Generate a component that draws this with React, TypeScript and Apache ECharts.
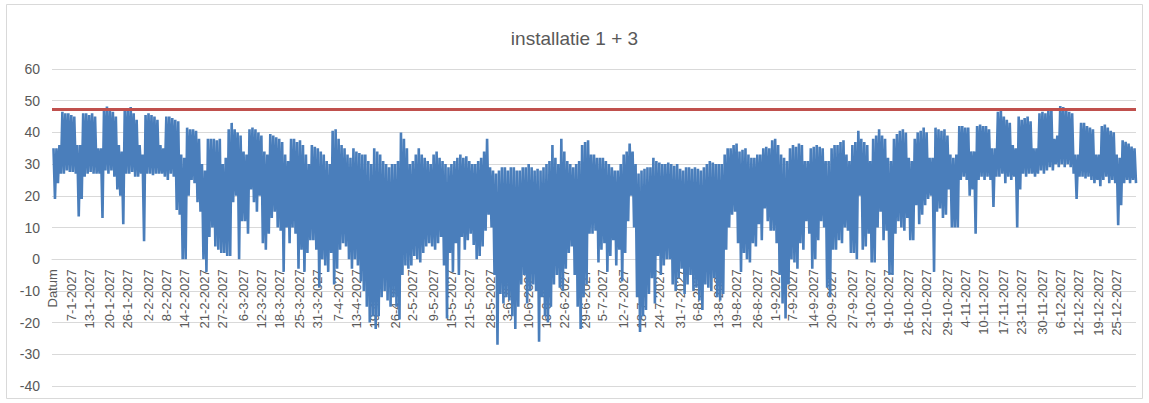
import React, { useEffect, useRef } from "react";
import * as echarts from "echarts";

const TITLE = "installatie 1 + 3";
const YEAR = 2027;
const FIRST_CATEGORY = "Datum";
const THRESHOLD = 47.2;
const Y_MIN = -40;
const Y_MAX = 60;
const Y_STEP = 10;

const TICK_LABELS = [
  "Datum", "7-1-2027", "13-1-2027", "20-1-2027", "26-1-2027", "2-2-2027", "8-2-2027",
  "14-2-2027", "21-2-2027", "27-2-2027", "6-3-2027", "12-3-2027", "18-3-2027", "25-3-2027",
  "31-3-2027", "7-4-2027", "13-4-2027", "19-4-2027", "26-4-2027", "2-5-2027", "9-5-2027",
  "15-5-2027", "21-5-2027", "28-5-2027", "3-6-2027", "10-6-2027", "16-6-2027", "22-6-2027",
  "29-6-2027", "5-7-2027", "12-7-2027", "18-7-2027", "24-7-2027", "31-7-2027", "6-8-2027",
  "13-8-2027", "19-8-2027", "26-8-2027", "1-9-2027", "7-9-2027", "14-9-2027", "20-9-2027",
  "27-9-2027", "3-10-2027", "9-10-2027", "16-10-2027", "22-10-2027", "29-10-2027", "4-11-2027",
  "10-11-2027", "17-11-2027", "23-11-2027", "30-11-2027", "6-12-2027", "12-12-2027",
  "19-12-2027", "25-12-2027",
];

// daily maximum, 1 Jan .. 31 Dec 2027
const DAILY_HIGH = [
  35, 35, 36,
  46.5, 46, 46, 45.5, 45, 36, 36,
  46, 46, 45.5, 46, 45, 35, 35,
  47, 48.2, 47, 46.5, 45, 36, 34,
  47.5, 47, 48, 46, 44, 36, 33,
  45.5, 46, 45.5, 45, 44, 36, 35,
  45, 45, 44.5, 44, 43.5, 33, 32,
  41.5, 41, 41, 40.5, 38, 30, 28,
  38, 38, 38, 37.5, 38, 30, 32,
  41, 43, 41, 40, 39, 34, 33,
  41, 41.5, 41, 40, 39, 34, 33,
  39.5, 39, 38.5, 38, 37, 33, 31,
  38, 38, 37, 37.5, 36, 33, 30,
  36, 35.5, 35, 34, 33, 31, 30,
  40.5, 41, 38, 36, 35, 33, 32,
  35, 34, 33.5, 33, 33, 31, 30,
  35, 34, 33, 31, 30, 29, 30,
  30, 31, 40, 38, 35, 30, 31,
  33, 35, 33, 32, 31, 30, 33,
  34, 32, 31, 30, 29, 30, 31,
  32, 33, 32, 32.5, 31, 30, 30,
  31, 32, 34, 38, 29, 28, 27,
  28, 29, 29, 28, 29, 29, 28,
  28, 29, 29, 30, 29, 28, 28.5,
  28, 29, 30, 31, 36, 32, 30,
  38, 34, 31, 30, 29, 30, 31,
  36, 37, 37.5, 33, 33, 32, 32,
  32, 31, 30, 29, 28, 28, 30,
  33, 34, 36.5, 34, 30, 27, 28,
  28.5, 29, 29, 32, 31, 30.5, 30,
  30, 30.5, 30, 29.5, 30, 28.5, 28,
  29, 29, 28.5, 29, 28.5, 28, 29,
  30, 31, 30.5, 30, 30, 30, 33,
  35, 35, 36, 36.5, 34, 34.5, 35,
  33, 32, 32, 33, 33, 35, 35.5,
  35, 37.5, 38, 36, 33, 32, 31,
  35, 36, 35.5, 36.5, 36, 31, 31,
  35, 35.5, 36, 35.5, 35, 31, 31,
  35, 36, 36, 37, 37.5, 33, 31,
  36, 37, 40.5, 38, 37, 36, 31,
  38, 39, 41, 39, 38, 32, 31,
  38, 39.5, 40.5, 41, 40, 32, 31,
  38, 40, 40.5, 41.5, 40, 32, 32,
  41.5, 41, 40.5, 41, 39, 33, 32,
  33, 42, 42, 41.5, 41.5, 34, 34,
  42, 42.5, 42, 42, 41, 35, 35,
  46.5, 47, 45, 44, 43, 36, 35,
  45, 44, 44.5, 45, 43.5, 35, 35,
  46, 46.5, 46, 47, 47.5, 38, 39,
  48.3, 48, 47, 46.5, 46, 33, 33,
  43, 43, 42, 41.5, 41, 33, 33,
  42, 42.5, 41.5, 40.5, 40, 33, 32,
  37.5, 37, 36.5, 35.5, 35,
];

// daily minimum, 1 Jan .. 31 Dec 2027
const DAILY_LOW = [
  19, 24, 27,
  27, 28, 27.5, 27.5, 27, 13.5, 19,
  26, 27, 27.5, 27, 27, 27, 13,
  28, 27, 28, 26, 22, 20, 11,
  27, 27, 27.5, 26, 26, 27, 5.7,
  27, 27, 26.5, 27, 27, 27, 26,
  25, 27, 26, 15.5, 14, 0, 0,
  20, 25, 24, 18, 15, 0, -4,
  7, 10, 4, 3, 2, 2, 1,
  1, 18, 20, 0, 12, 12, 8,
  22, 18, 15, 20, 5, 3, 8,
  13, 15, 10, 9, -4, 10, 5,
  10, 8, -3, 3, -4, 2, 6,
  6, 3, -9, 0, -2, -4, 2,
  -8, -3, 3, 5, 4, 0, -3,
  0, -2, -7, -10, -15, -20, -18,
  -22, -18, -12, -10, -13, -15, -12,
  -15, -19, -5, -2, -3, -2, 1,
  0, -1, 2, 4, 5, 4, 3,
  5, 7, -2, -18.7, 2, -4, 5,
  -5, 7, 3, 6, 8, 4.5, 0,
  1, 4, 9, 14, 10, -5, -27,
  -11, -14, -12, -13, -18, -22, -15,
  -8, -5, -14, -10, -8, -10, -26,
  -12, -18, -20, -15, -8, -5, -9,
  -10, -3, 2, 4, -5, -15, -22,
  -12, -8, 8, 8, 9, -1, 3,
  5, -4, 1, 6, -2, 3, -7,
  2, 12, 20, 10, -12, -23, -18,
  -16, -11, -6, -14, 1, -5, -2,
  0, 0, -8, -10, -6, -3, -11,
  -8, -5, -10, -9, -13, -16, -8,
  -9, -10, -6, -12, -13, -11, 3,
  10, 14, 15, 5, -4, 2, 0,
  -1, 5, 4, 11, 6, 16, 12,
  9, 9, 5, -5, -14, -18.7, -8,
  0, -1, -3, 5, 3, 12, 8,
  -3, 0, 6, 12, 10, -9, -12,
  3, 3, 6, 5, 10, 9, 2,
  2, 0, 20, 3, 4, 8, -1,
  -1, 10, 15, 6, 9, -5, -5,
  8, 12, 10, 9, 13, 6, 6,
  17, 11, 14, 17, 19, 20, -4,
  15, 16, 13, 14, 22, 10, 10,
  10, 25, 26, 25, 20, 22, 8,
  25, 26, 25, 26, 25, 16.5, 26,
  26, 27, 24, 26, 25, 26, 10,
  22, 27, 26, 27, 27, 26, 27,
  28, 27, 28, 29, 28, 30, 29,
  30, 29, 30, 29, 27, 19, 26,
  26, 25.5, 26, 25, 24, 25, 23,
  25, 26, 24, 25, 24, 10.7, 17,
  24, 25, 24, 25, 24,
];

const GRID_TOP = 69;
const GRID_BOTTOM = 17;
const CHART_H = 403;

function buildData() {
  const categories: string[] = [FIRST_CATEGORY];
  const values: (number | null)[] = [null];
  for (let d = 0; d < DAILY_HIGH.length; d++) {
    const dt = new Date(YEAR, 0, 1 + d);
    const label = `${dt.getDate()}-${dt.getMonth() + 1}-${YEAR}`;
    categories.push(label, label);
    values.push(DAILY_HIGH[d], DAILY_LOW[d]);
  }
  return { categories, values };
}

export default function App() {
  const ref = useRef<HTMLDivElement>(null);

  useEffect(() => {
    document.body.style.margin = "0";
    if (!ref.current) return;
    const chart = echarts.init(ref.current, undefined, { renderer: "svg" });
    const { categories, values } = buildData();
    const shown = new Set<number>(TICK_LABELS.map((l) => categories.indexOf(l)));
    const font = "Liberation Sans";
    const grey = "#595959";
    // place the category axis on the value 0, as in the spreadsheet chart
    const gridH = CHART_H - GRID_TOP - GRID_BOTTOM;
    const zeroOffset = -gridH * ((0 - Y_MIN) / (Y_MAX - Y_MIN));

    chart.setOption({
      animation: false,
      backgroundColor: "#ffffff",
      textStyle: { fontFamily: font },
      title: {
        text: TITLE,
        left: "center",
        top: 24,
        textStyle: { fontSize: 19, fontWeight: "normal", color: grey, fontFamily: font },
      },
      graphic: [
        {
          type: "rect",
          silent: true,
          z: -10,
          shape: { x: 6.5, y: 4.5, width: 1136, height: 394 },
          style: { fill: "none", stroke: "#d9d9d9", lineWidth: 1 },
        },
      ],
      grid: {
        left: 52,
        right: 13,
        top: GRID_TOP,
        bottom: GRID_BOTTOM,
        containLabel: false,
        outerBoundsMode: "none",
      },
      xAxis: {
        type: "category",
        data: categories,
        boundaryGap: false,
        offset: zeroOffset,
        axisLine: { show: true, onZero: false, lineStyle: { color: "#d9d9d9", width: 1 } },
        axisTick: { show: false },
        splitLine: { show: false },
        axisLabel: {
          interval: (index: number) => shown.has(index),
          rotate: 90,
          margin: 10,
          fontSize: 13,
          color: grey,
          fontFamily: font,
        },
      },
      yAxis: {
        type: "value",
        min: Y_MIN,
        max: Y_MAX,
        interval: Y_STEP,
        axisLine: { show: false },
        axisTick: { show: false },
        splitLine: { show: true, lineStyle: { color: "#d9d9d9", width: 1 } },
        axisLabel: { fontSize: 14, color: grey, margin: 12, fontFamily: font },
      },
      series: [
        {
          name: TITLE,
          type: "line",
          data: values,
          showSymbol: false,
          symbol: "none",
          connectNulls: false,
          lineStyle: { color: "#4A7EBB", width: 2.6 },
          itemStyle: { color: "#4A7EBB" },
          markLine: {
            silent: true,
            symbol: ["none", "none"],
            label: { show: false },
            lineStyle: { color: "#C0504D", width: 3, type: "solid" },
            data: [{ yAxis: THRESHOLD }],
          },
        },
      ],
    });

    return () => chart.dispose();
  }, []);

  return <div ref={ref} style={{ width: 1149, height: 403 }} />;
}
